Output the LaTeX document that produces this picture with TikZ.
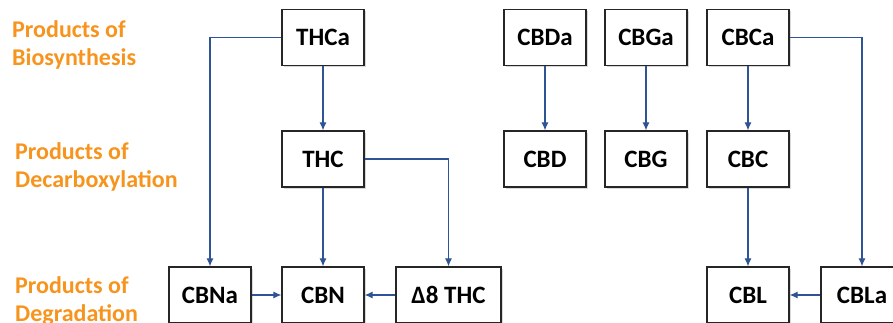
\documentclass[tikz,border=0pt]{standalone}
\usepackage{fontspec}
\setmainfont{Carlito}
\usetikzlibrary{arrows.meta,shadows}
\definecolor{labelorange}{RGB}{247,148,29}
\definecolor{arrowblue}{RGB}{47,84,150}
\tikzset{
  compound/.style={draw=black!85, line width=1.2pt, fill=white, minimum width=82pt, minimum height=56pt,
    inner sep=0pt, font=\fontsize{25}{30}\selectfont\bfseries,
    drop shadow={opacity=0.3, shadow xshift=1.5pt, shadow yshift=-1.8pt}},
  stage/.style={anchor=north west, inner sep=0pt, align=left, text=labelorange,
    font=\fontsize{24}{28.5}\selectfont\bfseries},
  flow/.style={draw=arrowblue, line width=1.1pt, -{Latex[length=8pt,width=7pt]}}
}
\begin{document}
\begin{tikzpicture}[x=1pt,y=1pt]
        \useasboundingbox (0,0) rectangle (893,323) ;
        % stage labels
        \node[stage] (bio) at (12,303) {Products of\\Biosynthesis} ;
        \node[stage] (dec) at (15,181) {Products of\\Decarboxylation} ;
        \node[stage] (deg) at (15,47) {Products of\\Degradation} ;

        % top row
        \node[compound] (thca) at (323,285.5) {THCa} ;
        \node[compound] (cbda) at (545,285.5) {CBDa} ;
        \node[compound] (cbga) at (646,285.5) {CBGa} ;
        \node[compound] (cbca) at (748,285.5) {CBCa} ;
        % middle row
        \node[compound] (thc) at (323,164) {THC} ;
        \node[compound] (cbd) at (545,164) {CBD} ;
        \node[compound] (cbg) at (646,164) {CBG} ;
        \node[compound] (cbc) at (748,164) {CBC} ;
        % bottom row
        \node[compound] (cbna) at (210,28) {CBNa} ;
        \node[compound] (cbn) at (323,28) {CBN} ;
        \node[compound, minimum width=105pt] (dthc) at (448.5,28) {Δ8 THC} ;
        \node[compound] (cbl) at (748,28) {CBL} ;
        \node[compound] (cbla) at (862,28) {CBLa} ;

        \draw[flow] (thca.west) -| (cbna.north) ;
        \draw[flow] (thca) -- (thc) ;
        \draw[flow] (thc) -- (cbn) ;
        \draw[flow] (thc.east) -| (dthc.north) ;
        \draw[flow] (cbna) -- (cbn) ;
        \draw[flow] (dthc) -- (cbn) ;
        \draw[flow] (cbda) -- (cbd) ;
        \draw[flow] (cbga) -- (cbg) ;
        \draw[flow] (cbca) -- (cbc) ;
        \draw[flow] (cbc) -- (cbl) ;
        \draw[flow] (cbca.east) -| (cbla.north) ;
        \draw[flow] (cbla) -- (cbl) ;
\end{tikzpicture}
\end{document}
